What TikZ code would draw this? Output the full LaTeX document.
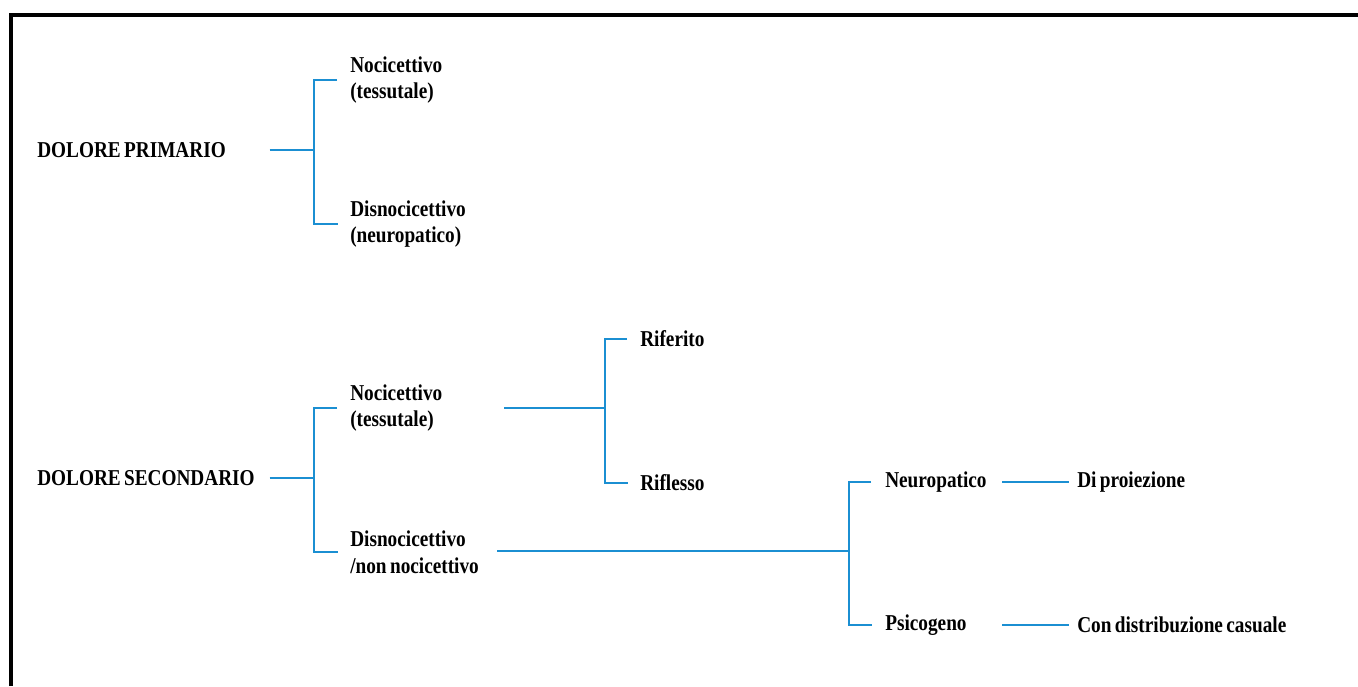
\documentclass[tikz,border=0pt]{standalone}
\usepackage{fontspec}
\setmainfont[FakeStretch=0.85, WordSpace=0.7]{Liberation Serif}
\usetikzlibrary{calc}
\definecolor{cblue}{HTML}{1B8FD2}
\tikzset{
  every picture/.style={x=0.75pt, y=-0.75pt},
  lab/.style={anchor=west, inner sep=0pt, align=left, font=\bfseries\fontsize{17}{20}\selectfont},
  root/.style={lab, text width=174pt, align=flush left},
  link/.style={draw=cblue, line width=2pt},
  frame/.style={draw=black, line width=2.6pt},
}

\begin{document}
\begin{tikzpicture}
  \useasboundingbox (0,0) rectangle (1358,686);
  \draw[frame] (11,686) -- (11,15) -- (1358,15);
  % primary pain
  \node[root] (prim) at (37,150) {DOLORE PRIMARIO};
  \coordinate (j1) at (314,150);
  \node[lab] (noc1) at (350,80) {Nocicettivo\\(tessutale)};
  \node[lab] (dis1) at (350,224) {Disnocicettivo\\(neuropatico)};
  \draw[link] (prim.east) -- (j1);
  \draw[link] ($(noc1.west)+(-13,0)$) -| (j1) |- ($(dis1.west)+(-12,0)$);
  % secondary pain
  \node[root] (sec) at (37,478) {DOLORE SECONDARIO};
  \coordinate (j2) at (314,478);
  \node[lab] (noc2) at (350,408) {Nocicettivo\\(tessutale)};
  \node[lab] (dis2) at (350,552) {Disnocicettivo\\/non nocicettivo};
  \draw[link] (sec.east) -- (j2);
  \draw[link] ($(noc2.west)+(-13,0)$) -| (j2) |- ($(dis2.west)+(-12,0)$);
  % tissue branch
  \coordinate (s3) at (504,408);
  \coordinate (j3) at (605,408);
  \node[lab] (rif) at (640,339) {Riferito};
  \node[lab] (rifl) at (640,483) {Riflesso};
  \draw[link] (s3) -- (j3);
  \draw[link] ($(rif.west)+(-13,0)$) -| (j3) |- ($(rifl.west)+(-12,0)$);
  % non-nociceptive branch
  \coordinate (s4) at (497,551);
  \coordinate (j4) at (849,551);
  \node[lab] (neu) at (885,482) {Neuropatico};
  \node[lab] (psi) at (885,625) {Psicogeno};
  \draw[link] (s4) -- (j4);
  \draw[link] ($(neu.west)+(-14,0)$) -| (j4) |- ($(psi.west)+(-13,0)$);
  \coordinate (s5) at (1002,482);
  \coordinate (s6) at (1002,625);
  \node[lab] (proi) at (1077,482) {Di proiezione};
  \node[lab] (cas) at (1077,625) {Con distribuzione casuale};
  \draw[link] (s5) -- ($(proi.west)+(-8,0)$);
  \draw[link] (s6) -- ($(cas.west)+(-8,0)$);
\end{tikzpicture}
\end{document}
